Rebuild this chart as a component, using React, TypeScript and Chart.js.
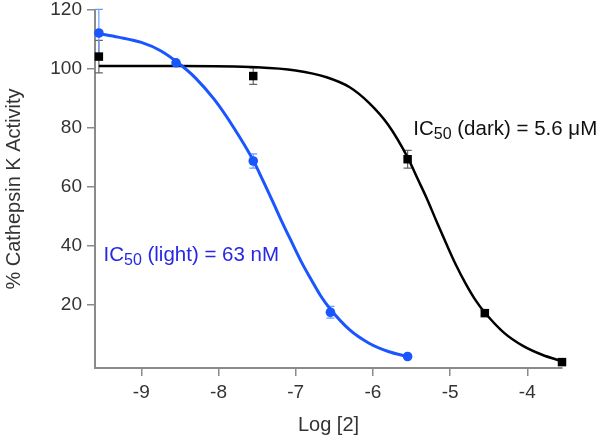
import React, { useEffect, useRef } from 'react';
import { Chart, registerables } from 'chart.js';

Chart.register(...registerables);

// Measured data (log molar concentration vs % activity)
const darkLogConc = [-9.55, -7.55, -5.55, -4.55, -3.55];
const darkActivity = [104.2, 97.6, 69.4, 17.2, 0.6];
const darkError = [5.5, 2.8, 3.0, 0.8, 0.5];

const lightLogConc = [-9.55, -8.55, -7.55, -6.55, -5.55];
const lightActivity = [112.2, 102.1, 68.8, 17.5, 2.5];
const lightError = [8.0, 0.6, 2.4, 2.0, 0.5];

// Fitted curves
const darkFitX = [-9.55, -8.5, -7.5, -7.0, -6.6, -6.3, -6.05, -5.8, -5.55, -5.425, -5.3, -5.175, -5.05, -4.925, -4.8, -4.675, -4.55, -4.3, -4.05, -3.8, -3.55];
const darkFitY = [101, 101, 100.6, 99.5, 97.2, 93.8, 88.5, 81, 70, 63, 56, 48.3, 40.8, 33.6, 27.3, 21.8, 17.4, 10.5, 6, 3, 0.9];

const lightFitX = [-9.55, -9.3, -9.0, -8.75, -8.55, -8.3, -8.05, -7.8, -7.55, -7.425, -7.3, -7.175, -7.05, -6.925, -6.8, -6.675, -6.55, -6.3, -6.05, -5.8, -5.55];
const lightFitY = [112, 110.8, 109, 106.2, 102.6, 97, 89.5, 80, 69, 62.2, 55.2, 48, 41.2, 34.5, 28.6, 23, 18.5, 11.5, 7, 4.2, 2.5];

const xTicks = [-9, -8, -7, -6, -5, -4];
const yTicks = [20, 40, 60, 80, 100, 120];

const xTitle = 'Log [2]';
const yTitle = '% Cathepsin K Activity';

const darkLabel = { prefix: 'IC', sub: '50', suffix: ' (dark) = 5.6 μM' };
const lightLabel = { prefix: 'IC', sub: '50', suffix: ' (light) = 63 nM' };

const FONT = '"Liberation Sans", Arial, Helvetica, sans-serif';
const BLUE = '#1a56ff';
const BLUE_ERR = '#6a9cff';
const BLUE_TEXT = '#2727e6';

const errorBarPlugin = {
  id: 'errorBars',
  beforeDatasetsDraw(chart: any) {
    const { ctx, scales } = chart;
    const xs = scales.x;
    const ys = scales.y;
    const sets = [
      { x: darkLogConc, y: darkActivity, e: darkError, color: '#666666' },
      { x: lightLogConc, y: lightActivity, e: lightError, color: BLUE_ERR },
    ];
    ctx.save();
    ctx.lineWidth = 1.2;
    sets.forEach((s) => {
      ctx.strokeStyle = s.color;
      s.x.forEach((xv, i) => {
        const px = xs.getPixelForValue(xv);
        const top = ys.getPixelForValue(s.y[i] + s.e[i]);
        const bot = ys.getPixelForValue(s.y[i] - s.e[i]);
        ctx.beginPath();
        ctx.moveTo(px, top);
        ctx.lineTo(px, bot);
        ctx.moveTo(px - 4, top);
        ctx.lineTo(px + 4, top);
        ctx.moveTo(px - 4, bot);
        ctx.lineTo(px + 4, bot);
        ctx.stroke();
      });
    });
    ctx.restore();
  },
};

function drawIC(ctx: CanvasRenderingContext2D, x: number, y: number, lbl: { prefix: string; sub: string; suffix: string }, color: string) {
  ctx.fillStyle = color;
  ctx.textBaseline = 'alphabetic';
  ctx.textAlign = 'left';
  ctx.font = `20.5px ${FONT}`;
  ctx.fillText(lbl.prefix, x, y);
  let w = ctx.measureText(lbl.prefix).width;
  ctx.font = `16px ${FONT}`;
  ctx.fillText(lbl.sub, x + w, y + 4);
  w += ctx.measureText(lbl.sub).width;
  ctx.font = `20.5px ${FONT}`;
  ctx.fillText(lbl.suffix, x + w, y);
}

const annotationPlugin = {
  id: 'icLabels',
  afterDraw(chart: any) {
    const { ctx, scales } = chart;
    ctx.save();
    drawIC(ctx, scales.x.getPixelForValue(-5.477), scales.y.getPixelForValue(77.6), darkLabel, '#111111');
    drawIC(ctx, scales.x.getPixelForValue(-9.49), scales.y.getPixelForValue(34.9), lightLabel, BLUE_TEXT);
    ctx.restore();
  },
};

export default function App() {
  const ref = useRef<HTMLCanvasElement | null>(null);

  useEffect(() => {
    document.body.style.margin = '0';
    if (!ref.current) return;
    const toPts = (xs: number[], ys: number[]) => xs.map((x, i) => ({ x, y: ys[i] }));
    const chart = new Chart(ref.current, {
      type: 'scatter',
      data: {
        datasets: [
          {
            data: toPts(lightLogConc, lightActivity),
            pointStyle: 'circle',
            pointRadius: 4.8,
            backgroundColor: BLUE,
            borderColor: BLUE,
            borderWidth: 0,
            order: 1,
          } as any,
          {
            data: toPts(darkLogConc, darkActivity),
            pointStyle: 'rect',
            pointRadius: 6,
            backgroundColor: '#000000',
            borderColor: '#000000',
            borderWidth: 0,
            order: 0,
          } as any,
          {
            data: toPts(darkFitX, darkFitY),
            showLine: true,
            pointRadius: 0,
            borderColor: '#000000',
            borderWidth: 2.5,
            tension: 0.4,
            cubicInterpolationMode: 'monotone',
            order: 3,
          } as any,
          {
            data: toPts(lightFitX, lightFitY),
            showLine: true,
            pointRadius: 0,
            borderColor: BLUE,
            borderWidth: 3,
            tension: 0.4,
            cubicInterpolationMode: 'monotone',
            order: 2,
          } as any,
        ],
      },
      options: {
        animation: false,
        responsive: false,
        devicePixelRatio: 1,
        clip: false as any,
        layout: { padding: { top: 10, right: 38, left: 0, bottom: 0 } },
        plugins: {
          legend: { display: false },
          tooltip: { enabled: false },
        },
        scales: {
          x: {
            type: 'linear',
            min: -9.6,
            max: -3.55,
            afterBuildTicks: (s: any) => {
              s.ticks = xTicks.map((v) => ({ value: v }));
            },
            afterFit: (s: any) => {
              s.height = 72;
              s.paddingLeft = 0;
              s.paddingRight = 0;
            },
            ticks: {
              color: '#333333',
              font: { family: FONT, size: 19 },
              padding: 5,
              callback: (v: any) => String(v),
            },
            grid: { display: true, drawOnChartArea: false, drawTicks: true, tickLength: 8, color: '#8a8a8a', lineWidth: 1.5 },
            border: { display: true, color: '#8a8a8a', width: 2 },
            title: {
              display: true,
              text: xTitle,
              color: '#333333',
              font: { family: FONT, size: 20 },
              padding: { top: 0, bottom: 3 },
            },
          },
          y: {
            type: 'linear',
            min: -1.4,
            max: 120,
            afterBuildTicks: (s: any) => {
              s.ticks = yTicks.map((v) => ({ value: v }));
            },
            afterFit: (s: any) => {
              s.width = 95;
              s.paddingTop = 0;
              s.paddingBottom = 0;
            },
            ticks: {
              color: '#333333',
              font: { family: FONT, size: 19, lineHeight: 1 },
              padding: 5,
            },
            grid: { display: true, drawOnChartArea: false, drawTicks: true, tickLength: 8, color: '#8a8a8a', lineWidth: 1.5 },
            border: { display: true, color: '#8a8a8a', width: 2 },
            title: {
              display: true,
              text: yTitle,
              color: '#333333',
              font: { family: FONT, size: 20 },
              padding: { top: 2, bottom: 0 },
            },
          },
        },
      } as any,
      plugins: [errorBarPlugin, annotationPlugin],
    });
    return () => chart.destroy();
  }, []);

  return (
    <div style={{ width: 600, height: 440 }}>
      <canvas ref={ref} width={600} height={440} />
    </div>
  );
}
